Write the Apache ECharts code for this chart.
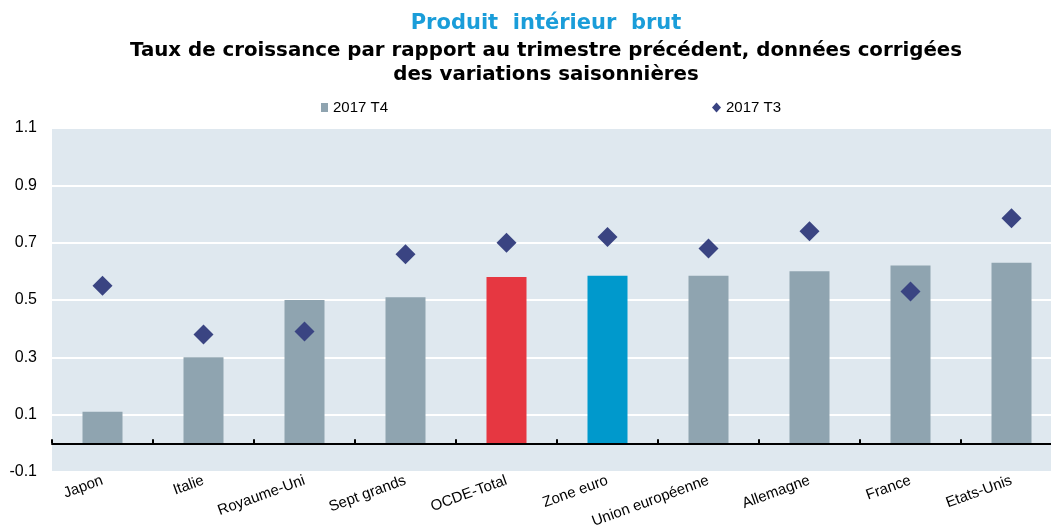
<!DOCTYPE html>
<html>
<head>
<meta charset="utf-8">
<script src="https://cdn.jsdelivr.net/npm/echarts@6/dist/echarts.min.js"></script>
<style>
  html, body { margin: 0; padding: 0; background: #fff; overflow: hidden; }
  /* plot area runs a little past the right edge in the reference */
  #main { width: 1062px; height: 532px; }
</style>
</head>
<body>
<div id="main"></div>
<script>
// data
const categories = ['Japon', 'Italie', 'Royaume-Uni', 'Sept grands', 'OCDE-Total',
  'Zone euro', 'Union européenne', 'Allemagne', 'France', 'Etats-Unis']
const t4Values = [0.11, 0.30, 0.50, 0.51, 0.58, 0.585, 0.585, 0.60, 0.62, 0.63]
const t3Values = [0.55, 0.38, 0.39, 0.66, 0.70, 0.72, 0.68, 0.74, 0.53, 0.785]
const yTicks = [-0.1, 0.1, 0.3, 0.5, 0.7, 0.9, 1.1]

const GREY = '#8fa4b0'
const highlight = { 'OCDE-Total': '#e63741', 'Zone euro': '#0099cc' }
const labelFont = "'Liberation Sans Narrow', 'Liberation Sans', Arial, sans-serif"
const titleFont = "'DejaVu Sans', 'Liberation Sans', Arial, sans-serif"
const titleX = 541

const chart = echarts.init(document.getElementById('main'))

chart.setOption({
  backgroundColor: '#fff',
  animation: false,
  title: [
    {
      text: 'Produit  intérieur  brut',
      left: titleX, top: 8, textAlign: 'center',
      textStyle: { color: '#1a9dd9', fontSize: 21, fontWeight: 'bold', fontFamily: titleFont }
    },
    {
      text: 'Taux de croissance par rapport au trimestre précédent, données corrigées',
      left: titleX, top: 36, textAlign: 'center',
      textStyle: { color: '#000', fontSize: 19.8, fontWeight: 'bold', fontFamily: titleFont }
    },
    {
      text: 'des variations saisonnières',
      left: titleX, top: 60, textAlign: 'center',
      textStyle: { color: '#000', fontSize: 19.8, fontWeight: 'bold', fontFamily: titleFont }
    }
  ],
  legend: [
    {
      data: [{ name: '2017 T4', icon: 'rect' }],
      left: 316, top: 95,
      itemWidth: 7, itemHeight: 9,
      textStyle: { fontSize: 15, color: '#000', fontFamily: labelFont }
    },
    {
      data: [{ name: '2017 T3', icon: 'diamond' }],
      left: 707, top: 95,
      itemWidth: 9, itemHeight: 10,
      textStyle: { fontSize: 15, color: '#000', fontFamily: labelFont }
    }
  ],
  grid: {
    left: 52, right: 0, top: 128, bottom: 60,
    show: true, backgroundColor: '#dfe8ef', borderWidth: 0
  },
  xAxis: [
    {
      type: 'category',
      data: categories,
      position: 'bottom',
      axisLine: { onZero: true, lineStyle: { color: '#000', width: 2 } },
      axisTick: { show: true, inside: true, interval: 0, length: 4, lineStyle: { color: '#000', width: 2 } },
      axisLabel: { show: false },
      z: 5
    },
    {
      type: 'category',
      data: categories,
      position: 'bottom',
      axisLine: { show: false, onZero: false },
      axisTick: { show: false },
      axisLabel: {
        rotate: 20, margin: 8, interval: 0,
        fontSize: 15, color: '#000', fontFamily: labelFont
      }
    }
  ],
  yAxis: {
    type: 'value',
    min: -0.1, max: 1.1, interval: 0.2,
    axisLine: { show: false },
    axisTick: { show: false },
    axisLabel: {
      margin: 15, fontSize: 16, color: '#000', fontFamily: 'Liberation Sans, Arial',
      formatter: v => {
        const r = Math.round(v * 10) / 10
        return yTicks.includes(r) ? r.toFixed(1) : ''
      }
    },
    splitLine: { lineStyle: { color: '#fff', width: 2 } }
  },
  series: [
    {
      name: '2017 T4',
      type: 'bar',
      xAxisIndex: 0,
      barWidth: 40,
      itemStyle: { color: GREY },
      data: t4Values.map((v, i) => ({
        value: v,
        itemStyle: { color: highlight[categories[i]] || GREY }
      })),
      z: 2
    },
    {
      name: '2017 T3',
      type: 'scatter',
      xAxisIndex: 0,
      symbol: 'diamond',
      symbolSize: [20, 20],
      itemStyle: { color: '#3a4482', opacity: 1 },
      data: t3Values,
      z: 4
    }
  ]
})
</script>
</body>
</html>
